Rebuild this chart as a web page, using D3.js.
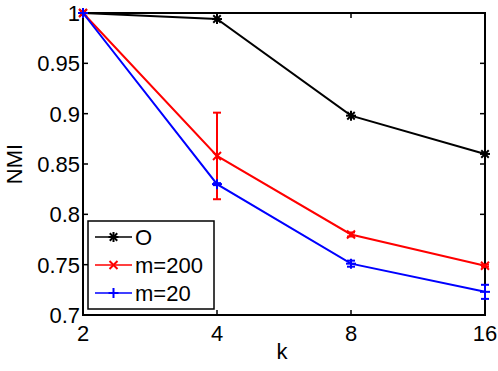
<!DOCTYPE html>
<html>
<head>
<meta charset="utf-8">
<script src="https://cdn.jsdelivr.net/npm/d3@7"></script>
<style>
  body { margin: 0; background: #fff; }
  text { font-family: "Liberation Sans", Arial, sans-serif; }
</style>
</head>
<body>
<svg id="chart"></svg>
<script>
// data
const kValues = [2, 4, 8, 16];
const nmiO = [1.0, 0.994, 0.898, 0.860];
const nmiM200 = [1.0, 0.858, 0.780, 0.749];
const errM200 = [0, 0.043, 0.002, 0.001];
const nmiM20 = [1.0, 0.830, 0.751, 0.723];
const errM20 = [0, 0.001, 0.003, 0.007];
const yTicks = [0.7, 0.75, 0.8, 0.85, 0.9, 0.95, 1];
const yTickLabels = ["0.7", "0.75", "0.8", "0.85", "0.9", "0.95", "1"];
const seriesNames = ["O", "m=200", "m=20"];

const width = 498, height = 371;
const margin = {top: 13, right: 13, bottom: 56, left: 83};
const fontSize = 22;

const svg = d3.select('#chart')
  .attr('width', width)
  .attr('height', height);

const x = d3.scaleLog().base(2).domain([2, 16]).range([margin.left, width - margin.right]);
const y = d3.scaleLinear().domain([0.7, 1]).range([height - margin.bottom, margin.top]);

const series = [
  {name: seriesNames[0], vals: nmiO, err: null, color: '#000000', marker: 'star'},
  {name: seriesNames[1], vals: nmiM200, err: errM200, color: '#ff0000', marker: 'x'},
  {name: seriesNames[2], vals: nmiM20, err: errM20, color: '#0000ff', marker: 'plus'}
];

// draws a matlab-ish marker at cx, cy
function drawMarker(g, type, cx, cy, color) {
  const r = 5;
  let segs = [];
  if (type === 'plus' || type === 'star') {
    segs.push([-r, 0, r, 0], [0, -r, 0, r]);
  }
  if (type === 'x' || type === 'star') {
    const d = type === 'star' ? r * 0.75 : r * 0.8;
    segs.push([-d, -d, d, d], [-d, d, d, -d]);
  }
  segs.forEach(s => {
    g.append('line')
      .attr('x1', cx + s[0]).attr('y1', cy + s[1])
      .attr('x2', cx + s[2]).attr('y2', cy + s[3])
      .attr('stroke', color)
      .attr('stroke-width', 2);
  });
}

// axes box
const x0 = margin.left, x1 = width - margin.right;
const y0 = height - margin.bottom, y1 = margin.top;
svg.append('rect')
  .attr('x', x0).attr('y', y1)
  .attr('width', x1 - x0).attr('height', y0 - y1)
  .attr('fill', 'none')
  .attr('stroke', 'black')
  .attr('stroke-width', 2);

const tickLen = 5;
// y ticks (left and right, inward)
yTicks.forEach((t, i) => {
  svg.append('line').attr('x1', x0).attr('x2', x0 + tickLen)
    .attr('y1', y(t)).attr('y2', y(t)).attr('stroke', 'black').attr('stroke-width', 1.5);
  svg.append('line').attr('x1', x1).attr('x2', x1 - tickLen)
    .attr('y1', y(t)).attr('y2', y(t)).attr('stroke', 'black').attr('stroke-width', 1.5);
  svg.append('text')
    .attr('x', x0 - 3)
    .attr('y', y(t))
    .attr('dy', '0.36em')
    .attr('text-anchor', 'end')
    .style('font-size', fontSize + 'px')
    .text(yTickLabels[i]);
});

// x ticks (bottom and top, inward)
kValues.forEach(k => {
  svg.append('line').attr('x1', x(k)).attr('x2', x(k))
    .attr('y1', y0).attr('y2', y0 - tickLen).attr('stroke', 'black').attr('stroke-width', 1.5);
  svg.append('line').attr('x1', x(k)).attr('x2', x(k))
    .attr('y1', y1).attr('y2', y1 + tickLen).attr('stroke', 'black').attr('stroke-width', 1.5);
  svg.append('text')
    .attr('x', x(k))
    .attr('y', y0 + 26)
    .attr('text-anchor', 'middle')
    .style('font-size', fontSize + 'px')
    .text(k);
});

// axis labels
svg.append('text')
  .attr('x', (x0 + x1) / 2 - 2)
  .attr('y', 359)
  .attr('text-anchor', 'middle')
  .style('font-size', fontSize + 'px')
  .text('k');

svg.append('text')
  .attr('transform', `translate(22, ${(y0 + y1) / 2}) rotate(-90)`)
  .attr('text-anchor', 'middle')
  .style('font-size', fontSize + 'px')
  .text('NMI');

// lines, error bars, markers
const line = d3.line().x(d => x(d[0])).y(d => y(d[1]));

series.forEach(s => {
  const g = svg.append('g');
  const pts = kValues.map((k, i) => [k, s.vals[i]]);
  g.append('path')
    .attr('d', line(pts))
    .attr('fill', 'none')
    .attr('stroke', s.color)
    .attr('stroke-width', 2);
  if (s.err) {
    kValues.forEach((k, i) => {
      const e = s.err[i];
      if (!e) return;
      const cx = x(k), top = y(s.vals[i] + e), bot = y(s.vals[i] - e);
      g.append('line').attr('x1', cx).attr('x2', cx).attr('y1', top).attr('y2', bot)
        .attr('stroke', s.color).attr('stroke-width', 2);
      [top, bot].forEach(yy => {
        g.append('line').attr('x1', cx - 4).attr('x2', cx + 4).attr('y1', yy).attr('y2', yy)
          .attr('stroke', s.color).attr('stroke-width', 2);
      });
    });
  }
  pts.forEach(p => drawMarker(g, s.marker, x(p[0]), y(p[1]), s.color));
});

// legend
const leg = svg.append('g');
leg.append('rect')
  .attr('x', 88).attr('y', 221)
  .attr('width', 126).attr('height', 88)
  .attr('fill', 'white')
  .attr('stroke', 'black')
  .attr('stroke-width', 1.5);

series.forEach((s, i) => {
  const ly = 237 + i * 28;
  leg.append('line')
    .attr('x1', 95).attr('x2', 132)
    .attr('y1', ly).attr('y2', ly)
    .attr('stroke', s.color)
    .attr('stroke-width', 1.5);
  drawMarker(leg, s.marker, 113.5, ly, s.color);
  leg.append('text')
    .attr('x', 135)
    .attr('y', ly)
    .attr('dy', '0.36em')
    .style('font-size', fontSize + 'px')
    .text(s.name);
});
</script>
</body>
</html>
